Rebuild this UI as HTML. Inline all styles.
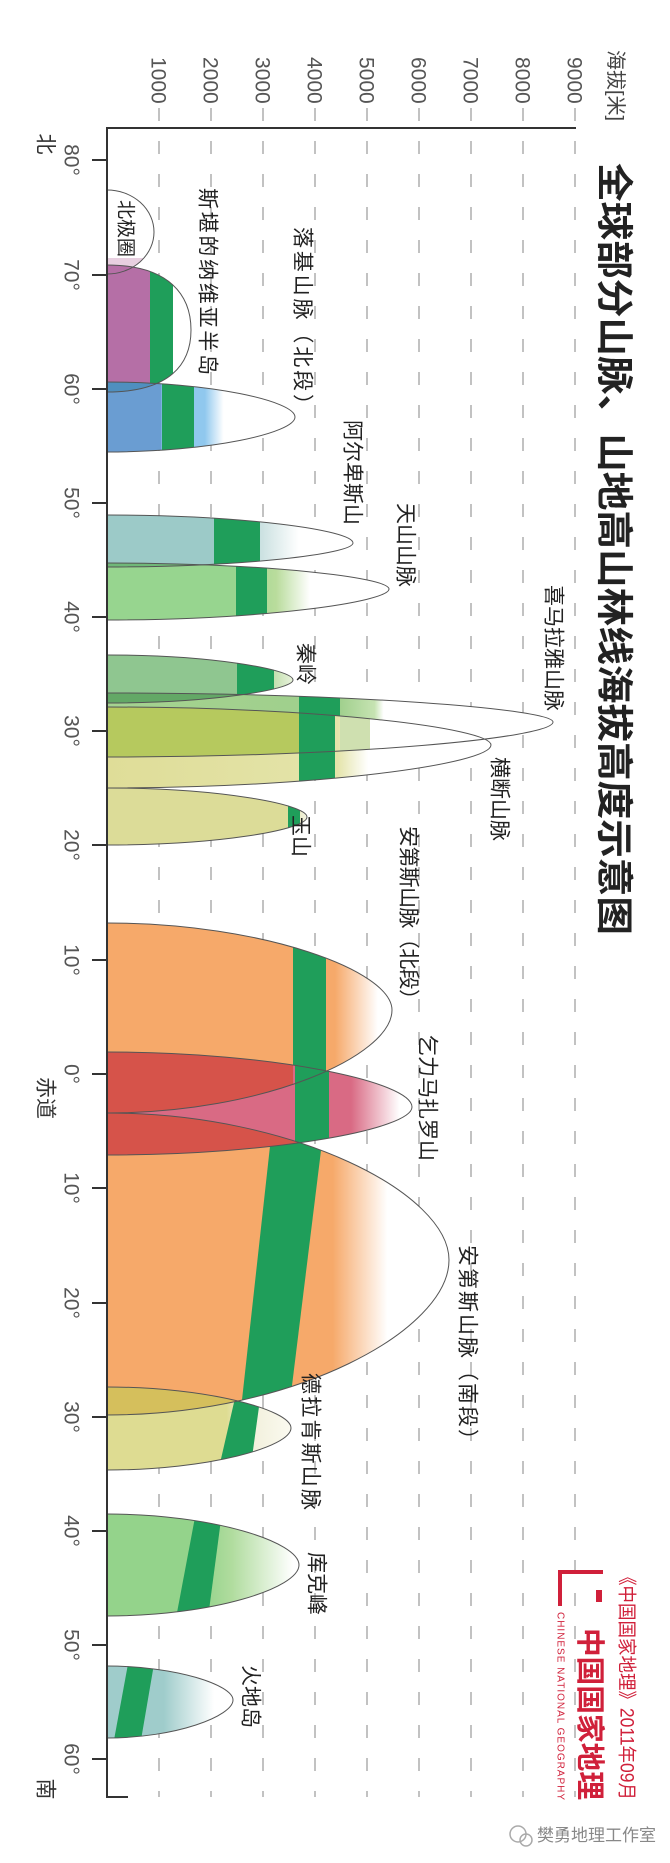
<!DOCTYPE html>
<html><head><meta charset="utf-8"><style>
html,body{margin:0;padding:0;background:#fff;}
svg{display:block;}
text{font-family:"Liberation Sans","Noto Sans CJK SC",sans-serif;}
</style></head><body>
<svg width="670" height="1863" viewBox="0 0 670 1863" xmlns="http://www.w3.org/2000/svg">
<defs>
<clipPath id="cArc"><path d="M107,190 A47,42 0 0 1 107,274 Z"/></clipPath>
<clipPath id="cSca"><path d="M107,265 C170,265 191,296 191,330 C191,364 170,392 107,392 Z"/></clipPath>
<clipPath id="cRoc"><path d="M107,382 C210,382 295,401 295,417 C295,433 210,452 107,452 Z"/></clipPath>
<clipPath id="cAlp"><path d="M107,515 C242,515 353,530 353,543 C353,554 242,567 107,567 Z"/></clipPath>
<clipPath id="cTia"><path d="M107,563 C262,563 389,577 389,589 C389,602 262,620 107,620 Z"/></clipPath>
<clipPath id="cQin"><path d="M107,655 C209,655 293,669 293,680 C293,690 209,703 107,703 Z"/></clipPath>
<clipPath id="cHim"><path d="M107,693 C352,693 553,709 553,722 C553,738 352,757 107,757 Z"/></clipPath>
<clipPath id="cHen"><path d="M107,707 C318,707 491,728 491,745 C491,764 318,788 107,788 Z"/></clipPath>
<clipPath id="cYus"><path d="M107,788 C217,788 307,804 307,817 C307,830 217,845 107,845 Z"/></clipPath>
<clipPath id="cAnN"><path d="M107,923 C264,923 392,971 392,1010 C392,1056 264,1113 107,1113 Z"/></clipPath>
<clipPath id="cKil"><path d="M107,1052 C275,1052 412,1082 412,1107 C412,1129 275,1155 107,1155 Z"/></clipPath>
<clipPath id="cAnS"><path d="M107,1113 C295,1113 449,1194 449,1260 C449,1330 295,1415 107,1415 Z"/></clipPath>
<clipPath id="cDra"><path d="M107,1387 C208,1387 291,1410 291,1428 C291,1447 208,1470 107,1470 Z"/></clipPath>
<clipPath id="cCoo"><path d="M107,1514 C213,1514 299,1542 299,1565 C299,1588 213,1616 107,1616 Z"/></clipPath>
<clipPath id="cFue"><path d="M107,1666 C176,1666 233,1685 233,1700 C233,1716 176,1738 107,1738 Z"/></clipPath>

<linearGradient id="gRoc" gradientUnits="userSpaceOnUse" x1="107" x2="295" y1="0" y2="0">
<stop offset="0" stop-color="#6a9dd2"/><stop offset="0.29" stop-color="#6a9dd2"/><stop offset="0.29" stop-color="#90c8ee"/><stop offset="0.52" stop-color="#90c8ee"/><stop offset="0.62" stop-color="#fff"/></linearGradient>
<linearGradient id="gAlp" gradientUnits="userSpaceOnUse" x1="107" x2="353" y1="0" y2="0">
<stop offset="0" stop-color="#9ccac8"/><stop offset="0.45" stop-color="#9ccac8"/><stop offset="0.62" stop-color="#c9e0e0"/><stop offset="0.78" stop-color="#fff"/></linearGradient>
<linearGradient id="gTia" gradientUnits="userSpaceOnUse" x1="107" x2="389" y1="0" y2="0">
<stop offset="0" stop-color="#97d58f"/><stop offset="0.45" stop-color="#97d58f"/><stop offset="0.6" stop-color="#b9dc9c"/><stop offset="0.72" stop-color="#fff"/></linearGradient>
<linearGradient id="gQin" gradientUnits="userSpaceOnUse" x1="107" x2="293" y1="0" y2="0">
<stop offset="0" stop-color="#8fc690"/><stop offset="0.7" stop-color="#8fc690"/><stop offset="0.9" stop-color="#c5e0b0"/><stop offset="1" stop-color="#e8f2dc"/></linearGradient>
<linearGradient id="gHim" gradientUnits="userSpaceOnUse" x1="107" x2="553" y1="0" y2="0">
<stop offset="0" stop-color="#a5d390"/><stop offset="0.52" stop-color="#9fcf8c"/><stop offset="0.6" stop-color="#c6e3b2"/><stop offset="0.62" stop-color="#fff"/></linearGradient>
<linearGradient id="gHen" gradientUnits="userSpaceOnUse" x1="107" x2="491" y1="0" y2="0">
<stop offset="0" stop-color="#dfdd98"/><stop offset="0.6" stop-color="#e4e4aa"/><stop offset="0.68" stop-color="#fff"/></linearGradient>
<linearGradient id="gYus" gradientUnits="userSpaceOnUse" x1="107" x2="307" y1="0" y2="0">
<stop offset="0" stop-color="#dcdc98"/><stop offset="0.9" stop-color="#dcdc98"/><stop offset="1" stop-color="#f4f4e4"/></linearGradient>
<linearGradient id="gAnN" gradientUnits="userSpaceOnUse" x1="107" x2="392" y1="0" y2="0">
<stop offset="0" stop-color="#f6a96a"/><stop offset="0.8" stop-color="#f6a96a"/><stop offset="0.95" stop-color="#fff"/></linearGradient>
<linearGradient id="gKil" gradientUnits="userSpaceOnUse" x1="107" x2="412" y1="0" y2="0">
<stop offset="0" stop-color="#d96a84"/><stop offset="0.8" stop-color="#d96a84"/><stop offset="0.96" stop-color="#fff"/></linearGradient>
<linearGradient id="gAnS" gradientUnits="userSpaceOnUse" x1="107" x2="449" y1="0" y2="0">
<stop offset="0" stop-color="#f6a96a"/><stop offset="0.66" stop-color="#f6a96a"/><stop offset="0.82" stop-color="#fff"/></linearGradient>
<linearGradient id="gDra" gradientUnits="userSpaceOnUse" x1="107" x2="291" y1="0" y2="0">
<stop offset="0" stop-color="#dedc92"/><stop offset="0.65" stop-color="#dedc92"/><stop offset="0.75" stop-color="#f0eed8"/><stop offset="1" stop-color="#fbfaf0"/></linearGradient>
<linearGradient id="gCoo" gradientUnits="userSpaceOnUse" x1="107" x2="299" y1="0" y2="0">
<stop offset="0" stop-color="#94d38b"/><stop offset="0.5" stop-color="#94d38b"/><stop offset="0.65" stop-color="#b0dc9e"/><stop offset="0.97" stop-color="#fff"/></linearGradient>
<linearGradient id="gFue" gradientUnits="userSpaceOnUse" x1="107" x2="233" y1="0" y2="0">
<stop offset="0" stop-color="#9fcccb"/><stop offset="0.45" stop-color="#9fcccb"/><stop offset="0.85" stop-color="#fff"/></linearGradient>
</defs>

<!-- gridlines -->
<g stroke="#9a9a9a" stroke-width="1.2" stroke-dasharray="13,20">
<line x1="159" y1="108" x2="159" y2="1797"/><line x1="211" y1="108" x2="211" y2="1797"/>
<line x1="263" y1="108" x2="263" y2="1797"/><line x1="315" y1="108" x2="315" y2="1797"/>
<line x1="367" y1="108" x2="367" y2="1797"/><line x1="419" y1="108" x2="419" y2="1797"/>
<line x1="471" y1="108" x2="471" y2="1797"/><line x1="523" y1="108" x2="523" y2="1797"/>
<line x1="575" y1="108" x2="575" y2="1797"/>
</g>

<!-- mountains -->
<g clip-path="url(#cArc)"><rect x="107" y="258" width="40" height="20" fill="#e8cfe0"/></g>
<g clip-path="url(#cSca)"><rect x="107" y="265" width="43" height="130" fill="#b56fa6"/><rect x="150" y="265" width="23" height="130" fill="#1f9e5a"/></g>
<g clip-path="url(#cRoc)"><rect x="107" y="380" width="190" height="75" fill="url(#gRoc)"/><rect x="162" y="380" width="32" height="75" fill="#1f9e5a"/>
<g clip-path="url(#cSca)"><rect x="107" y="380" width="66" height="15" fill="#4f8fbf"/></g></g>
<g clip-path="url(#cAlp)"><rect x="107" y="513" width="250" height="56" fill="url(#gAlp)"/><rect x="214" y="513" width="46" height="56" fill="#1f9e5a"/></g>
<g clip-path="url(#cTia)"><rect x="107" y="561" width="285" height="62" fill="url(#gTia)"/><rect x="236" y="561" width="31" height="62" fill="#1f9e5a"/>
<g clip-path="url(#cAlp)"><rect x="107" y="560" width="110" height="10" fill="#6fb878"/></g></g>
<g clip-path="url(#cHim)"><rect x="107" y="690" width="450" height="70" fill="url(#gHim)"/><rect x="299" y="690" width="41" height="70" fill="#1f9e5a"/></g>
<g clip-path="url(#cQin)"><rect x="107" y="653" width="190" height="52" fill="url(#gQin)"/><rect x="237" y="653" width="37" height="52" fill="#1f9e5a"/>
<g clip-path="url(#cHim)"><rect x="107" y="690" width="130" height="15" fill="#63a866"/></g></g>
<g clip-path="url(#cHen)"><rect x="107" y="705" width="390" height="85" fill="url(#gHen)"/><rect x="299" y="705" width="36" height="85" fill="#1f9e5a"/>
<g clip-path="url(#cHim)"><rect x="107" y="690" width="192" height="70" fill="#b6c95e"/><rect x="340" y="690" width="30" height="70" fill="#cfe0b0"/></g></g>
<g clip-path="url(#cYus)"><rect x="107" y="786" width="205" height="62" fill="url(#gYus)"/><rect x="288" y="786" width="12" height="62" fill="#1f9e5a"/></g>
<g clip-path="url(#cAnN)"><rect x="107" y="920" width="290" height="196" fill="url(#gAnN)"/><rect x="293" y="920" width="33" height="196" fill="#1f9e5a"/></g>
<g clip-path="url(#cAnS)"><rect x="107" y="1110" width="345" height="308" fill="url(#gAnS)"/><polygon points="274,1110 326,1110 288,1418 240,1418" fill="#1f9e5a"/></g>
<g clip-path="url(#cKil)"><rect x="107" y="1050" width="310" height="108" fill="url(#gKil)"/><rect x="295" y="1050" width="34" height="108" fill="#1f9e5a"/>
<g clip-path="url(#cAnN)"><rect x="107" y="1050" width="186" height="70" fill="#d6534a"/></g>
<g clip-path="url(#cAnS)"><rect x="107" y="1110" width="200" height="50" fill="#d6534a"/></g></g>
<g clip-path="url(#cDra)"><rect x="107" y="1385" width="190" height="88" fill="url(#gDra)"/><polygon points="238,1385 262,1385 250,1472 218,1472" fill="#1f9e5a"/>
<g clip-path="url(#cAnS)"><rect x="107" y="1385" width="130" height="35" fill="#d5bf5c"/></g></g>
<g clip-path="url(#cCoo)"><rect x="107" y="1512" width="195" height="107" fill="url(#gCoo)"/><polygon points="196,1512 222,1512 208,1618 176,1618" fill="#1f9e5a"/></g>
<g clip-path="url(#cFue)"><rect x="107" y="1664" width="130" height="77" fill="url(#gFue)"/><polygon points="128,1664 154,1664 141,1740 114,1740" fill="#1f9e5a"/></g>

<!-- outlines -->
<g fill="none" stroke="#555" stroke-width="1">
<path d="M107,190 A47,42 0 0 1 107,274"/>
<path d="M107,265 C170,265 191,296 191,330 C191,364 170,392 107,392"/>
<path d="M107,382 C210,382 295,401 295,417 C295,433 210,452 107,452"/>
<path d="M107,515 C242,515 353,530 353,543 C353,554 242,567 107,567"/>
<path d="M107,563 C262,563 389,577 389,589 C389,602 262,620 107,620"/>
<path d="M107,655 C209,655 293,669 293,680 C293,690 209,703 107,703"/>
<path d="M107,693 C352,693 553,709 553,722 C553,738 352,757 107,757"/>
<path d="M107,707 C318,707 491,728 491,745 C491,764 318,788 107,788"/>
<path d="M107,788 C217,788 307,804 307,817 C307,830 217,845 107,845"/>
<path d="M107,923 C264,923 392,971 392,1010 C392,1056 264,1113 107,1113"/>
<path d="M107,1052 C275,1052 412,1082 412,1107 C412,1129 275,1155 107,1155"/>
<path d="M107,1113 C295,1113 449,1194 449,1260 C449,1330 295,1415 107,1415"/>
<path d="M107,1387 C208,1387 291,1410 291,1428 C291,1447 208,1470 107,1470"/>
<path d="M107,1514 C213,1514 299,1542 299,1565 C299,1588 213,1616 107,1616"/>
<path d="M107,1666 C176,1666 233,1685 233,1700 C233,1716 176,1738 107,1738"/>
</g>

<!-- axes -->
<g stroke="#333" stroke-width="2" fill="none">
<line x1="107" y1="128" x2="107" y2="1798"/>
<line x1="106" y1="128" x2="576" y2="128"/>
<line x1="106" y1="1797" x2="128" y2="1797"/>
<line x1="92" y1="160" x2="107" y2="160"/><line x1="92" y1="275" x2="107" y2="275"/>
<line x1="92" y1="389" x2="107" y2="389"/><line x1="92" y1="503" x2="107" y2="503"/>
<line x1="92" y1="617" x2="107" y2="617"/><line x1="92" y1="731" x2="107" y2="731"/>
<line x1="92" y1="845" x2="107" y2="845"/><line x1="92" y1="960" x2="107" y2="960"/>
<line x1="92" y1="1074" x2="107" y2="1074"/><line x1="92" y1="1188" x2="107" y2="1188"/>
<line x1="92" y1="1303" x2="107" y2="1303"/><line x1="92" y1="1417" x2="107" y2="1417"/>
<line x1="92" y1="1531" x2="107" y2="1531"/><line x1="92" y1="1645" x2="107" y2="1645"/>
<line x1="92" y1="1759" x2="107" y2="1759"/>
</g>

<!-- elevation labels -->
<g font-size="21" fill="#555" dominant-baseline="central">
<text transform="translate(158,57) rotate(90)">1000</text>
<text transform="translate(210,57) rotate(90)">2000</text>
<text transform="translate(262,57) rotate(90)">3000</text>
<text transform="translate(314,57) rotate(90)">4000</text>
<text transform="translate(366,57) rotate(90)">5000</text>
<text transform="translate(418,57) rotate(90)">6000</text>
<text transform="translate(470,57) rotate(90)">7000</text>
<text transform="translate(522,57) rotate(90)">8000</text>
<text transform="translate(574,57) rotate(90)">9000</text>
<text transform="translate(615,50) rotate(90)" font-size="20" fill="#444">海拔[米]</text>
</g>

<!-- latitude labels -->
<g font-size="21" fill="#555" dominant-baseline="central" text-anchor="middle">
<text transform="translate(71,160) rotate(90)">80°</text>
<text transform="translate(71,275) rotate(90)">70°</text>
<text transform="translate(71,389) rotate(90)">60°</text>
<text transform="translate(71,503) rotate(90)">50°</text>
<text transform="translate(71,617) rotate(90)">40°</text>
<text transform="translate(71,731) rotate(90)">30°</text>
<text transform="translate(71,845) rotate(90)">20°</text>
<text transform="translate(71,960) rotate(90)">10°</text>
<text transform="translate(71,1074) rotate(90)">0°</text>
<text transform="translate(71,1188) rotate(90)">10°</text>
<text transform="translate(71,1303) rotate(90)">20°</text>
<text transform="translate(71,1417) rotate(90)">30°</text>
<text transform="translate(71,1531) rotate(90)">40°</text>
<text transform="translate(71,1645) rotate(90)">50°</text>
<text transform="translate(71,1759) rotate(90)">60°</text>
<text transform="translate(45,144) rotate(90)" fill="#333">北</text>
<text transform="translate(45,1098) rotate(90)" fill="#333">赤道</text>
<text transform="translate(45,1789) rotate(90)" fill="#333">南</text>
</g>

<!-- title -->
<text transform="translate(614,163) rotate(90)" font-size="37" font-weight="bold" fill="#222" dominant-baseline="central" textLength="772" lengthAdjust="spacingAndGlyphs">全球部分山脉、山地高山林线海拔高度示意图</text>

<!-- mountain labels -->
<g font-size="21" fill="#222" dominant-baseline="central">
<text transform="translate(125,200) rotate(90)" font-size="19">北极圈</text>
<text transform="translate(207,188) rotate(90)" textLength="187">斯堪的纳维亚半岛</text>
<text transform="translate(302,227) rotate(90)" textLength="188">落基山脉（北段）</text>
<text transform="translate(352,420) rotate(90)">阿尔卑斯山</text>
<text transform="translate(405,503) rotate(90)">天山山脉</text>
<text transform="translate(553,585) rotate(90)">喜马拉雅山脉</text>
<text transform="translate(305,643) rotate(90)">秦岭</text>
<text transform="translate(499,757) rotate(90)">横断山脉</text>
<text transform="translate(300,815) rotate(90)">玉山</text>
<text transform="translate(408,826) rotate(90)" textLength="184">安第斯山脉（北段）</text>
<text transform="translate(427,1035) rotate(90)">乞力马扎罗山</text>
<text transform="translate(467,1245) rotate(90)" textLength="205">安第斯山脉（南段）</text>
<text transform="translate(310,1373) rotate(90)" textLength="137">德拉肯斯山脉</text>
<text transform="translate(316,1552) rotate(90)">库克峰</text>
<text transform="translate(250,1665) rotate(90)">火地岛</text>
</g>

<!-- source / logo -->
<g fill="#d0203a">
<text transform="translate(626,1568) rotate(90)" font-size="19" dominant-baseline="central" textLength="232" lengthAdjust="spacingAndGlyphs">《中国国家地理》2011年09月</text>
<path d="M603,1572 L560,1572 L560,1606" stroke="#d0203a" stroke-width="4" fill="none"/>
<rect x="596" y="1590" width="6" height="12"/>
<text transform="translate(589,1628) rotate(90)" font-size="29" font-weight="bold" dominant-baseline="central" textLength="172" lengthAdjust="spacingAndGlyphs">中国国家地理</text>
<text transform="translate(560,1612) rotate(90)" font-size="10" font-family="Liberation Serif, serif" dominant-baseline="central" textLength="188">CHINESE NATIONAL GEOGRAPHY</text>
</g>

<!-- watermark -->
<g fill="none" stroke="#aaa" stroke-width="1.5">
<circle cx="518" cy="1834" r="8"/><circle cx="526" cy="1840" r="6"/>
</g>
<text x="537" y="1841" font-size="17" fill="#888">樊勇地理工作室</text>
</svg>
</body></html>
